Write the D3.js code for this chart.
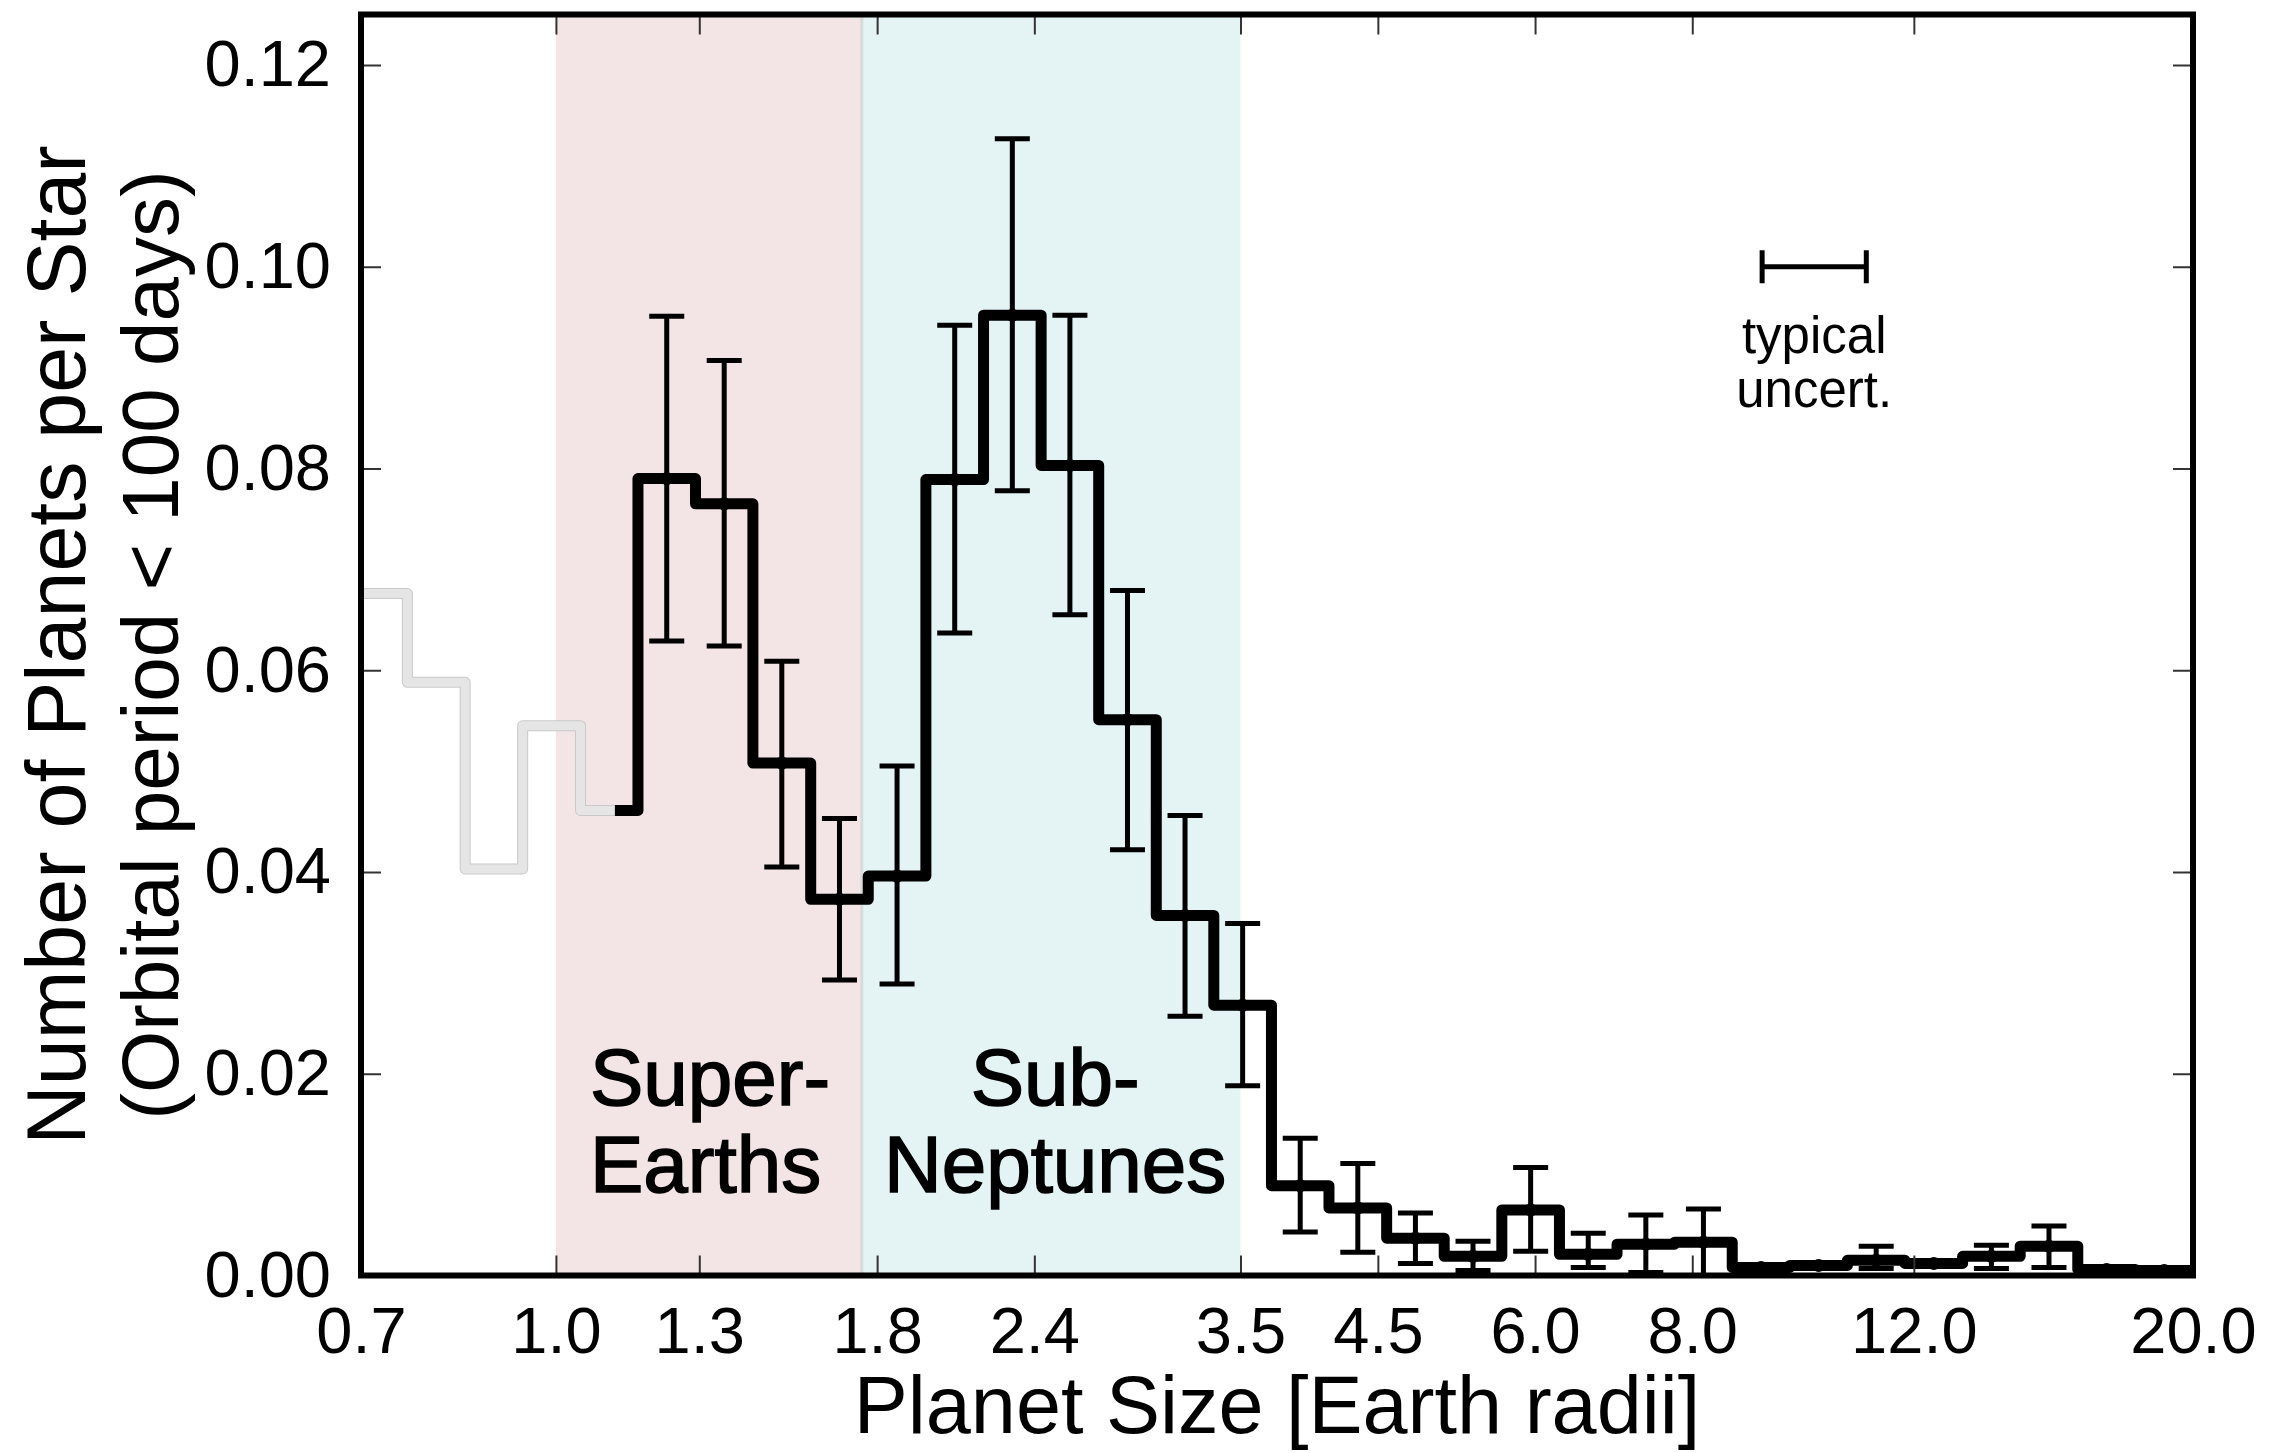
<!DOCTYPE html>
<html>
<head>
<meta charset="utf-8">
<script src="https://cdn.jsdelivr.net/npm/d3@7"></script>
<style>
  html, body { margin: 0; padding: 0; background: #fff; }
  svg { display: block; }
  text { font-family: "Liberation Sans", Arial, Helvetica, sans-serif; fill: #000; }
</style>
</head>
<body>
<svg id="chart" width="2274" height="1453"></svg>
<script>
// Log-spaced radius bins (Earth radii): 33 edges -> 32 bins
const binEdges = [0.686, 0.762, 0.847, 0.941, 1.046, 1.162, 1.291, 1.434, 1.594, 1.771,
                  1.968, 2.187, 2.430, 2.700, 3.000, 3.333, 3.704, 4.115, 4.573, 5.081,
                  5.646, 6.274, 6.971, 7.746, 8.607, 9.563, 10.626, 11.807, 13.120, 14.578,
                  16.198, 17.999, 20.0];

// Occurrence rate per bin (planets per star, P < 100 d)
const rate = [0.0676, 0.0588, 0.0403, 0.0545, 0.0461, 0.0790, 0.0765, 0.0508, 0.0373, 0.0396,
              0.0789, 0.0952, 0.0803, 0.0551, 0.0357, 0.0268, 0.0089, 0.0067, 0.0037, 0.0019,
              0.0065, 0.0021, 0.0031, 0.0033, 0.0008, 0.0010, 0.0015, 0.0012, 0.0019, 0.0029,
              0.0006, 0.0005];

// Lower / upper bounds of the uncertainty (null where no error bar is shown)
const rateLo = [null, null, null, null, null, 0.0629, 0.0624, 0.0405, 0.0293, 0.0289,
                0.0637, 0.0778, 0.0655, 0.0422, 0.0257, 0.0188, 0.0043, 0.0023, 0.0012, 0.0005,
                0.0024, 0.0008, 0.0003, 0.0000, 0.0006, 0.0008, 0.0007, 0.0010, 0.0007, 0.0008,
                0.0004, 0.0003];
const rateHi = [null, null, null, null, null, 0.0951, 0.0907, 0.0609, 0.0453, 0.0505,
                0.0942, 0.1127, 0.0952, 0.0679, 0.0456, 0.0349, 0.0136, 0.0111, 0.0062, 0.0034,
                0.0107, 0.0042, 0.0060, 0.0066, 0.0010, 0.0012, 0.0029, 0.0014, 0.0030, 0.0049,
                0.0008, 0.0007];

// Radius above which the sample is treated as complete (drawn in black)
const completeAbove = 1.114;

const xTickValues = [0.7, 1.0, 1.3, 1.8, 2.4, 3.5, 4.5, 6.0, 8.0, 12.0, 20.0];
const xTickLabels = ["0.7", "1.0", "1.3", "1.8", "2.4", "3.5", "4.5", "6.0", "8.0", "12.0", "20.0"];
const yTickValues = [0.00, 0.02, 0.04, 0.06, 0.08, 0.10, 0.12];
const yTickLabels = ["0.00", "0.02", "0.04", "0.06", "0.08", "0.10", "0.12"];

const superEarthRange = [1.0, 1.75];
const subNeptuneRange = [1.75, 3.5];

// Typical radius uncertainty marker
const uncertCenter = 10;
const uncertFactor = 1.1;
const uncertLevel = 0.10;

// ---------------------------------------------------------------
const svg = d3.select("#chart");
const pL = 361, pR = 2193, pT = 14.5, pB = 1275.5;

const x = d3.scaleLog().domain([0.7, 20]).range([pL, pR]);
const y = d3.scaleLinear().domain([0, 0.12]).range([pB, 65]);

svg.append("rect").attr("width", 2274).attr("height", 1453).attr("fill", "#fff");

svg.append("defs").append("clipPath").attr("id", "plotClip")
  .append("rect").attr("x", pL).attr("y", pT).attr("width", pR - pL).attr("height", pB - pT);

const plot = svg.append("g").attr("clip-path", "url(#plotClip)");

// Shaded size classes
plot.append("rect")
  .attr("x", x(superEarthRange[0])).attr("y", pT)
  .attr("width", x(superEarthRange[1]) - x(superEarthRange[0])).attr("height", pB - pT)
  .attr("fill", "#f3e4e5");
plot.append("rect")
  .attr("x", x(subNeptuneRange[0])).attr("y", pT)
  .attr("width", x(subNeptuneRange[1]) - x(subNeptuneRange[0])).attr("height", pB - pT)
  .attr("fill", "#e4f3f3");
plot.append("line")
  .attr("x1", x(subNeptuneRange[0])).attr("x2", x(subNeptuneRange[0]))
  .attr("y1", pT).attr("y2", pB)
  .attr("stroke", "#d8dbdb").attr("stroke-width", 3);

// Step-path points
const bins = rate.map((v, i) => ({ lo: binEdges[i], hi: binEdges[i + 1], v, elo: rateLo[i], ehi: rateHi[i] }));
const step = d3.line().x(d => x(d[0])).y(d => y(d[1])).curve(d3.curveStepAfter);

// Incomplete region in gray
const grayBins = bins.filter(b => b.lo < completeAbove);
const grayPts = grayBins.map(b => [b.lo, b.v]);
grayPts.push([grayBins[grayBins.length - 1].hi, grayBins[grayBins.length - 1].v]);
plot.append("path").attr("d", step(grayPts))
  .attr("fill", "none").attr("stroke", "#c9c9c9").attr("stroke-width", 11)
  .attr("stroke-linejoin", "round").attr("stroke-linecap", "round");
plot.append("path").attr("d", step(grayPts))
  .attr("fill", "none").attr("stroke", "#e5e5e5").attr("stroke-width", 9)
  .attr("stroke-linejoin", "round").attr("stroke-linecap", "round");

// Complete region in black
const blackBins = bins.filter(b => b.hi > completeAbove);
const blackPts = blackBins.map(b => [Math.max(b.lo, completeAbove), b.v]);
blackPts.push([blackBins[blackBins.length - 1].hi, blackBins[blackBins.length - 1].v]);
plot.append("path").attr("d", step(blackPts))
  .attr("fill", "none").attr("stroke", "#000").attr("stroke-width", 11)
  .attr("stroke-linejoin", "round").attr("stroke-linecap", "butt");

// Error bars at geometric bin centres
const errBins = bins.filter(b => b.elo !== null);
const eb = plot.append("g").attr("stroke", "#000").attr("stroke-width", 5);
errBins.forEach(b => {
  const cx = x(Math.sqrt(b.lo * b.hi));
  eb.append("line").attr("x1", cx).attr("x2", cx).attr("y1", y(b.elo)).attr("y2", y(b.ehi));
  eb.append("line").attr("x1", cx - 17.5).attr("x2", cx + 17.5).attr("y1", y(b.elo)).attr("y2", y(b.elo));
  eb.append("line").attr("x1", cx - 17.5).attr("x2", cx + 17.5).attr("y1", y(b.ehi)).attr("y2", y(b.ehi));
  plot.append("circle").attr("cx", cx).attr("cy", y(b.v)).attr("r", 6.5).attr("fill", "#000");
});

// Class labels
const lab = svg.append("g").attr("font-size", 80)
  .attr("stroke", "#000").attr("stroke-width", 1.6).attr("paint-order", "stroke");
lab.append("text").attr("x", 590).attr("y", 1105).text("Super-");
lab.append("text").attr("x", 590).attr("y", 1192).text("Earths");
const snx = x(Math.sqrt(subNeptuneRange[0] * subNeptuneRange[1])) + 4;
lab.append("text").attr("x", snx).attr("y", 1105).attr("text-anchor", "middle").text("Sub-");
lab.append("text").attr("x", snx).attr("y", 1192).attr("text-anchor", "middle").text("Neptunes");

// Typical uncertainty marker
const ux1 = x(uncertCenter / uncertFactor), ux2 = x(uncertCenter * uncertFactor), uy = y(uncertLevel);
const um = svg.append("g").attr("stroke", "#000").attr("stroke-width", 5);
um.append("line").attr("x1", ux1).attr("x2", ux2).attr("y1", uy).attr("y2", uy);
um.append("line").attr("x1", ux1).attr("x2", ux1).attr("y1", uy - 16.5).attr("y2", uy + 16.5);
um.append("line").attr("x1", ux2).attr("x2", ux2).attr("y1", uy - 16.5).attr("y2", uy + 16.5);
svg.append("text").attr("x", x(uncertCenter)).attr("y", uy + 86).attr("text-anchor", "middle")
  .attr("font-size", 51).text("typical");
svg.append("text").attr("x", x(uncertCenter)).attr("y", uy + 140).attr("text-anchor", "middle")
  .attr("font-size", 51).text("uncert.");

// Axes: ticks pointing inward on all four sides
function styleAxis(g) {
  g.select(".domain").remove();
  g.selectAll(".tick line").attr("stroke", "#333").attr("stroke-width", 2);
  g.selectAll(".tick text").attr("font-size", 65).attr("fill", "#000")
    .style("font-family", "'Liberation Sans', Arial, Helvetica, sans-serif");
}
svg.append("g").attr("transform", `translate(0,${pB})`)
  .call(d3.axisBottom(x).tickValues(xTickValues).tickFormat((d, i) => xTickLabels[i]).tickSize(-20).tickPadding(31))
  .call(styleAxis);
svg.append("g").attr("transform", `translate(0,${pT})`)
  .call(d3.axisTop(x).tickValues(xTickValues).tickFormat("").tickSize(-20))
  .call(styleAxis);
svg.append("g").attr("transform", `translate(${pL},0)`)
  .call(d3.axisLeft(y).tickValues(yTickValues).tickFormat((d, i) => yTickLabels[i]).tickSize(-20).tickPadding(30))
  .call(styleAxis);
svg.append("g").attr("transform", `translate(${pR},0)`)
  .call(d3.axisRight(y).tickValues(yTickValues).tickFormat("").tickSize(-20))
  .call(styleAxis);

// Frame
svg.append("rect").attr("x", pL).attr("y", pT).attr("width", pR - pL).attr("height", pB - pT)
  .attr("fill", "none").attr("stroke", "#000").attr("stroke-width", 6);

// Axis titles
svg.append("text").attr("x", (pL + pR) / 2).attr("y", 1433).attr("text-anchor", "middle")
  .attr("font-size", 81).text("Planet Size [Earth radii]");
const yl = svg.append("g").attr("transform", `translate(0,${(pT + pB) / 2}) rotate(-90)`);
yl.append("text").attr("x", 0).attr("y", 85).attr("text-anchor", "middle")
  .attr("font-size", 82.5).text("Number of Planets per Star");
yl.append("text").attr("x", 0).attr("y", 178).attr("text-anchor", "middle")
  .attr("font-size", 80).text("(Orbital period < 100 days)");
</script>
</body>
</html>
